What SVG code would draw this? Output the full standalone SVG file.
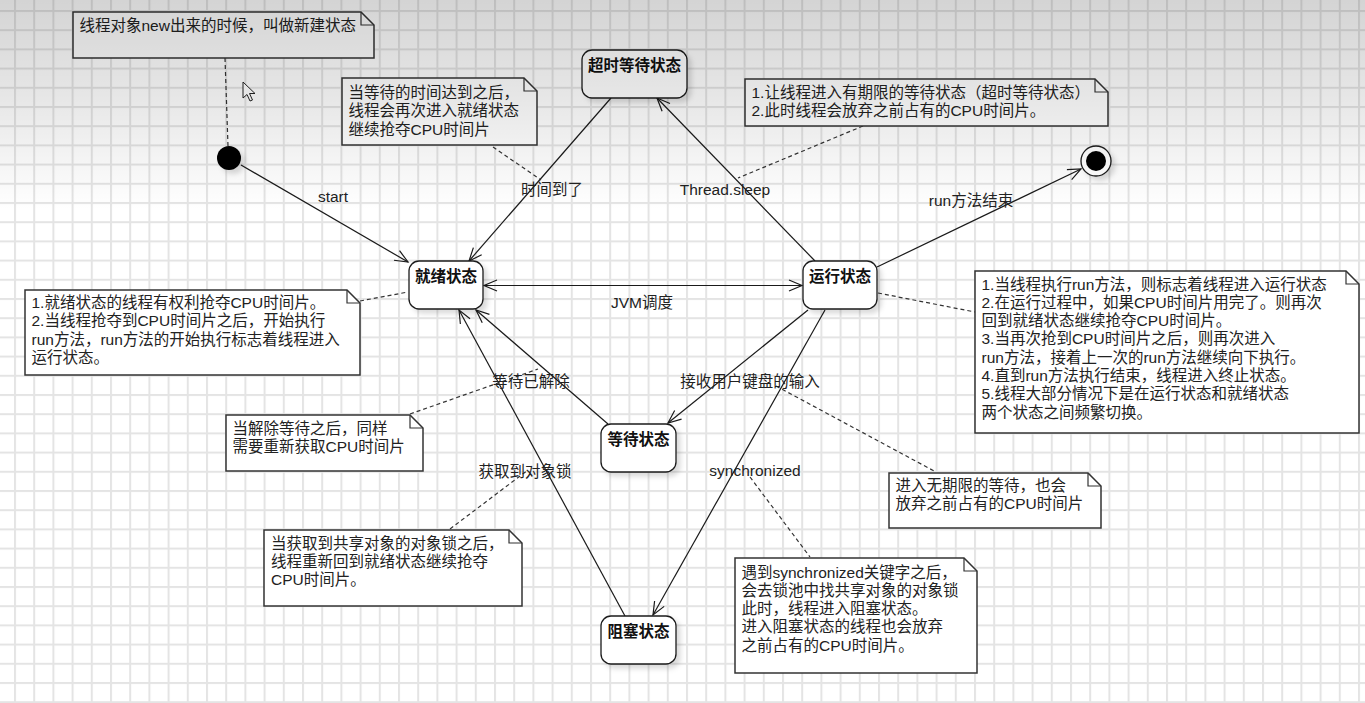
<svg xmlns="http://www.w3.org/2000/svg" width="1365" height="703" viewBox="0 0 1365 703">
  <defs>
    <style>
      .state rect { fill: #ffffff; stroke: #1a1a1a; stroke-width: 1.3; }
      .state text { font-family: "Liberation Sans", "Noto Sans CJK SC", sans-serif; font-size: 15.5px; font-weight: bold; fill: #111; text-anchor: middle; }
      .note path.body { fill: #ffffff; stroke: #333; stroke-width: 1.5; }
      .note path.fold { fill: none; stroke: #333; stroke-width: 1.2; }
      .note text { font-family: "Liberation Sans", "Noto Sans CJK SC", sans-serif; font-size: 15.5px; fill: #222; }
      .edge { fill: none; stroke: #1a1a1a; stroke-width: 1.2; marker-end: url(#arrow); }
      .anchor { fill: none; stroke: #333; stroke-width: 1.2; stroke-dasharray: 4 3; }
      .lbl { font-family: "Liberation Sans", "Noto Sans CJK SC", sans-serif; font-size: 15.5px; fill: #222; text-anchor: middle; }
    </style>
    <pattern id="grid" patternUnits="userSpaceOnUse" x="14" y="10" width="19.2" height="19.2">
      <rect x="0" y="0" width="19.2" height="2" fill="#e4e4e4"/>
      <rect x="0" y="0" width="2" height="19.2" fill="#e4e4e4"/>
    </pattern>
    <linearGradient id="fade" x1="0" y1="0" x2="0" y2="1">
      <stop offset="0" stop-color="#000" stop-opacity="0.17"/>
      <stop offset="0.5" stop-color="#000" stop-opacity="0.09"/>
      <stop offset="1" stop-color="#000" stop-opacity="0"/>
    </linearGradient>
    <filter id="shadow" x="-20%" y="-20%" width="150%" height="160%">
      <feDropShadow dx="4" dy="4" stdDeviation="2.5" flood-color="#000" flood-opacity="0.14"/>
    </filter>
    <marker id="arrow" markerUnits="userSpaceOnUse" markerWidth="16" markerHeight="14" viewBox="-14 -7 16 14" refX="0" refY="0" orient="auto-start-reverse">
      <path d="M-13,-5.5 L0,0 L-13,5.5" fill="none" stroke="#1a1a1a" stroke-width="1.2"/>
    </marker>
  </defs>

  <!-- canvas -->
  <rect width="1365" height="703" fill="#ffffff"/>
  <rect width="1365" height="703" fill="url(#grid)"/>

  <!-- transitions and note anchors -->
  <g id="connectors">
    <line class="edge" x1="241" y1="165" x2="408" y2="262"/>
    <line class="edge" x1="611" y1="98" x2="469" y2="261"/>
    <line class="edge" x1="815" y1="261" x2="657" y2="98"/>
    <line class="edge" x1="877" y1="267" x2="1081" y2="169"/>
    <line class="edge" x1="484" y1="285.5" x2="802" y2="285.5" marker-start="url(#arrow)" stroke-width="1.6"/>
    <line class="edge" x1="808" y1="310" x2="668" y2="423"/>
    <line class="edge" x1="825" y1="310" x2="653" y2="615"/>
    <line class="edge" x1="608" y1="424" x2="476" y2="310"/>
    <line class="edge" x1="625" y1="616" x2="459" y2="310"/>

    <line class="anchor" x1="225" y1="58" x2="228" y2="146"/>
    <line class="anchor" x1="493" y1="147" x2="541" y2="180"/>
    <line class="anchor" x1="863" y1="126" x2="738" y2="178"/>
    <line class="anchor" x1="360" y1="301" x2="408" y2="292"/>
    <line class="anchor" x1="878" y1="293" x2="975" y2="312"/>
    <line class="anchor" x1="410" y1="414" x2="538" y2="369"/>
    <line class="anchor" x1="450" y1="529" x2="528" y2="470"/>
    <line class="anchor" x1="776" y1="386" x2="936" y2="472"/>
    <line class="anchor" x1="750" y1="477" x2="810" y2="557"/>
  </g>

  <!-- transition labels -->
  <g id="labels">
    <text class="lbl" x="333" y="202">start</text>
    <text class="lbl" x="552" y="195">时间到了</text>
    <text class="lbl" x="725" y="195">Thread.sleep</text>
    <text class="lbl" x="971" y="206">run方法结束</text>
    <text class="lbl" x="642" y="308">JVM调度</text>
    <text class="lbl" x="531" y="387">等待已解除</text>
    <text class="lbl" x="750" y="387">接收用户键盘的输入</text>
    <text class="lbl" x="525" y="477">获取到对象锁</text>
    <text class="lbl" x="755" y="476">synchronized</text>
  </g>

  <!-- pseudo states -->
  <g id="initial">
    <circle cx="229" cy="158" r="12" fill="#000" filter="url(#shadow)"/>
  </g>
  <g id="final" filter="url(#shadow)">
    <circle cx="1096" cy="161" r="15" fill="#fff" stroke="#1a1a1a" stroke-width="1.3"/>
    <circle cx="1096" cy="161" r="10" fill="#000"/>
  </g>

  <!-- states -->
  <g id="timed-waiting" class="state">
    <rect x="582" y="50" width="105" height="48" rx="10" filter="url(#shadow)"/>
    <text x="634.5" y="70.5">超时等待状态</text>
  </g>
  <g id="runnable" class="state">
    <rect x="409" y="261" width="74" height="48" rx="10" filter="url(#shadow)"/>
    <text x="446" y="281.5">就绪状态</text>
  </g>
  <g id="running" class="state">
    <rect x="803" y="261" width="74" height="48" rx="10" filter="url(#shadow)"/>
    <text x="840" y="281.5">运行状态</text>
  </g>
  <g id="waiting" class="state">
    <rect x="601" y="424" width="75" height="48" rx="10" filter="url(#shadow)"/>
    <text x="638.5" y="444.5">等待状态</text>
  </g>
  <g id="blocked" class="state">
    <rect x="601" y="616" width="75" height="48" rx="10" filter="url(#shadow)"/>
    <text x="638.5" y="636.5">阻塞状态</text>
  </g>

  <!-- notes -->
  <g id="note-new" class="note">
    <path class="body" d="M73,12 H361 L374,25 V58 H73 Z"/>
    <path class="fold" d="M361,12 V25 H374"/>
    <text x="79.5" y="31">线程对象new出来的时候，叫做新建状态</text>
  </g>
  <g id="note-timeout" class="note">
    <path class="body" d="M342,78 H524 L537,91 V145 H342 Z"/>
    <path class="fold" d="M524,78 V91 H537"/>
    <text x="348.5" y="98"><tspan x="348.5">当等待的时间达到之后，</tspan><tspan x="348.5" dy="18.3">线程会再次进入就绪状态</tspan><tspan x="348.5" dy="18.3">继续抢夺CPU时间片</tspan></text>
  </g>
  <g id="note-sleep" class="note">
    <path class="body" d="M745,79 H1095 L1108,92 V126 H745 Z"/>
    <path class="fold" d="M1095,79 V92 H1108"/>
    <text x="751.5" y="97.5"><tspan x="751.5">1.让线程进入有期限的等待状态（超时等待状态）</tspan><tspan x="751.5" dy="18.3">2.此时线程会放弃之前占有的CPU时间片。</tspan></text>
  </g>
  <g id="note-runnable" class="note">
    <path class="body" d="M25,290 H347 L360,303 V375 H25 Z"/>
    <path class="fold" d="M347,290 V303 H360"/>
    <text x="31.5" y="308"><tspan x="31.5">1.就绪状态的线程有权利抢夺CPU时间片。</tspan><tspan x="31.5" dy="18.3">2.当线程抢夺到CPU时间片之后，开始执行</tspan><tspan x="31.5" dy="18.3">run方法，run方法的开始执行标志着线程进入</tspan><tspan x="31.5" dy="18.3">运行状态。</tspan></text>
  </g>
  <g id="note-running" class="note">
    <path class="body" d="M975,271 H1346 L1359,284 V433 H975 Z"/>
    <path class="fold" d="M1346,271 V284 H1359"/>
    <text x="981.5" y="289.5"><tspan x="981.5">1.当线程执行run方法，则标志着线程进入运行状态</tspan><tspan x="981.5" dy="18.3">2.在运行过程中，如果CPU时间片用完了。则再次</tspan><tspan x="981.5" dy="18.3">回到就绪状态继续抢夺CPU时间片。</tspan><tspan x="981.5" dy="18.3">3.当再次抢到CPU时间片之后，则再次进入</tspan><tspan x="981.5" dy="18.3">run方法，接着上一次的run方法继续向下执行。</tspan><tspan x="981.5" dy="18.3">4.直到run方法执行结束，线程进入终止状态。</tspan><tspan x="981.5" dy="18.3">5.线程大部分情况下是在运行状态和就绪状态</tspan><tspan x="981.5" dy="18.3">两个状态之间频繁切换。</tspan></text>
  </g>
  <g id="note-notify" class="note">
    <path class="body" d="M226,415 H410 L423,428 V471 H226 Z"/>
    <path class="fold" d="M410,415 V428 H423"/>
    <text x="232.5" y="434"><tspan x="232.5">当解除等待之后，同样</tspan><tspan x="232.5" dy="18.3">需要重新获取CPU时间片</tspan></text>
  </g>
  <g id="note-lock" class="note">
    <path class="body" d="M264,530 H509 L522,543 V606 H264 Z"/>
    <path class="fold" d="M509,530 V543 H522"/>
    <text x="271" y="548.5"><tspan x="271">当获取到共享对象的对象锁之后，</tspan><tspan x="271" dy="18.3">线程重新回到就绪状态继续抢夺</tspan><tspan x="271" dy="18.3">CPU时间片。</tspan></text>
  </g>
  <g id="note-wait" class="note">
    <path class="body" d="M889,473 H1088 L1101,486 V528 H889 Z"/>
    <path class="fold" d="M1088,473 V486 H1101"/>
    <text x="895.5" y="491"><tspan x="895.5">进入无期限的等待，也会</tspan><tspan x="895.5" dy="18.3">放弃之前占有的CPU时间片</tspan></text>
  </g>
  <g id="note-sync" class="note">
    <path class="body" d="M735,558 H964 L977,571 V673 H735 Z"/>
    <path class="fold" d="M964,558 V571 H977"/>
    <text x="741.5" y="577.5"><tspan x="741.5">遇到synchronized关键字之后，</tspan><tspan x="741.5" dy="18.3">会去锁池中找共享对象的对象锁</tspan><tspan x="741.5" dy="18.3">此时，线程进入阻塞状态。</tspan><tspan x="741.5" dy="18.3">进入阻塞状态的线程也会放弃</tspan><tspan x="741.5" dy="18.3">之前占有的CPU时间片。</tspan></text>
  </g>

  <!-- pointer -->
  <path d="M243,82 V98 L247,94.5 L250,101 L252.5,100 L249.5,93.5 L255,93.5 Z" fill="#fff" stroke="#222" stroke-width="1"/>

  <!-- top shading band -->
  <rect x="0" y="0" width="1365" height="210" fill="url(#fade)"/>
</svg>
